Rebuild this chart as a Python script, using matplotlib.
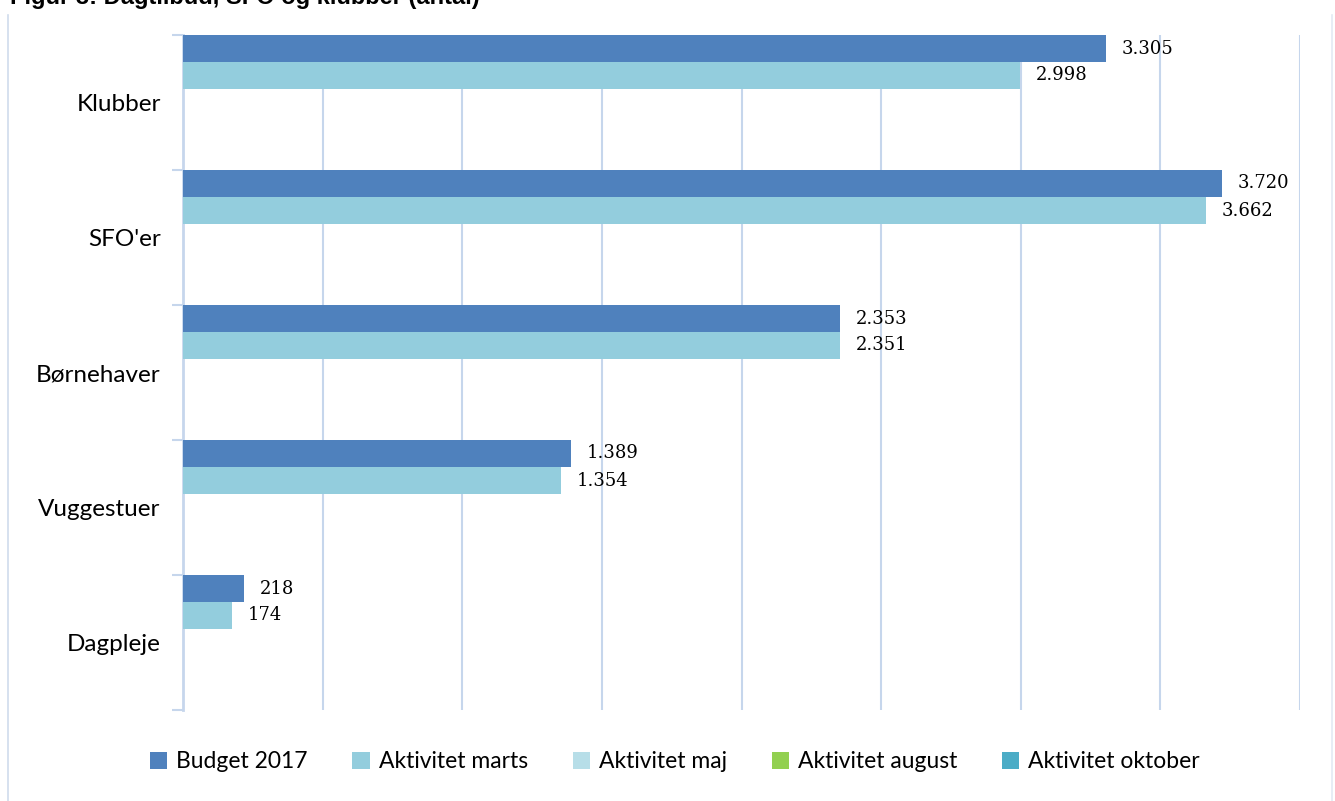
import numpy as np
import matplotlib
matplotlib.use("Agg")
import matplotlib.pyplot as plt
from matplotlib.patches import Patch
from matplotlib.lines import Line2D

categories = ["Klubber", "SFO'er", "Børnehaver", "Vuggestuer", "Dagpleje"]
series_names = ["Budget 2017", "Aktivitet marts", "Aktivitet maj", "Aktivitet august", "Aktivitet oktober"]
budget_2017 = [3305, 3720, 2353, 1389, 218]
aktivitet_marts = [2998, 3662, 2351, 1354, 174]
aktivitet_maj = [np.nan, np.nan, np.nan, np.nan, np.nan]
aktivitet_august = [np.nan, np.nan, np.nan, np.nan, np.nan]
aktivitet_oktober = [np.nan, np.nan, np.nan, np.nan, np.nan]
colors = ["#4F81BD", "#93CDDD", "#B7DEE8", "#92D050", "#4BACC6"]
title = "Figur 3: Dagtilbud, SFO og klubber (antal)"

series = [budget_2017, aktivitet_marts, aktivitet_maj, aktivitet_august, aktivitet_oktober]

W, H = 1335, 801
fig = plt.figure(figsize=(W / 100, H / 100), dpi=100)
ax = fig.add_axes([183 / W, 1 - 710 / H, (1300 - 183) / W, (710 - 35) / H])

grid_c = "#C6D6EC"
n = len(series)
slot = 1.0 / n
for si, (vals, col) in enumerate(zip(series, colors)):
    y = np.arange(len(categories)) + slot * (si + 0.5)
    ax.barh(y, vals, height=slot, color=col, zorder=3, linewidth=0)
    for yy, v in zip(y, vals):
        if v == v:
            ax.text(v + 57, yy, f"{v:,}".replace(",", "."), va="center", ha="left",
                    fontsize=13, family="DejaVu Serif", color="black", zorder=4)

ax.set_xlim(0, 4000)
ax.set_ylim(len(categories), 0)
ax.set_xticks(np.arange(500, 4001, 500))
ax.xaxis.grid(True, color=grid_c, linewidth=1.5, zorder=0)
ax.tick_params(axis="x", length=0, labelbottom=False)

ax.set_yticks(np.arange(0, len(categories) + 1))
ax.set_yticklabels([])
ax.set_yticks(np.arange(len(categories)) + 0.5, minor=True)
ax.set_yticklabels(categories, minor=True, fontsize=17.5, family="Lato")
ax.tick_params(axis="y", which="major", length=8, width=1.5, color=grid_c, direction="out")
ax.tick_params(axis="y", which="minor", length=0, pad=16)

for s in ["top", "right", "bottom"]:
    ax.spines[s].set_visible(False)
ax.spines["left"].set_color(grid_c)
ax.spines["left"].set_linewidth(2)

handles = [Patch(facecolor=c, edgecolor="none") for c in colors]
fig.legend(handles, series_names, loc="center", bbox_to_anchor=(675 / W, 1 - 762 / H),
           ncol=5, frameon=False, prop={"family": "Lato", "size": 16.5},
           handlelength=0.75, handleheight=0.75, handletextpad=0.4, columnspacing=1.95)

# chart frame edges
fig.add_artist(Line2D([8 / W, 8 / W], [0, 1 - 15 / H], color="#D0DCEC", linewidth=1.2))
fig.add_artist(Line2D([1332 / W, 1332 / W], [0, 1 - 15 / H], color="#E3EAF3", linewidth=1.2))

fig.text(10 / W, 1 - 4 / H, title, ha="left", va="baseline", fontsize=17,
         fontweight="bold", family="Liberation Sans")

fig.savefig("out.png", dpi=100, facecolor="white")
